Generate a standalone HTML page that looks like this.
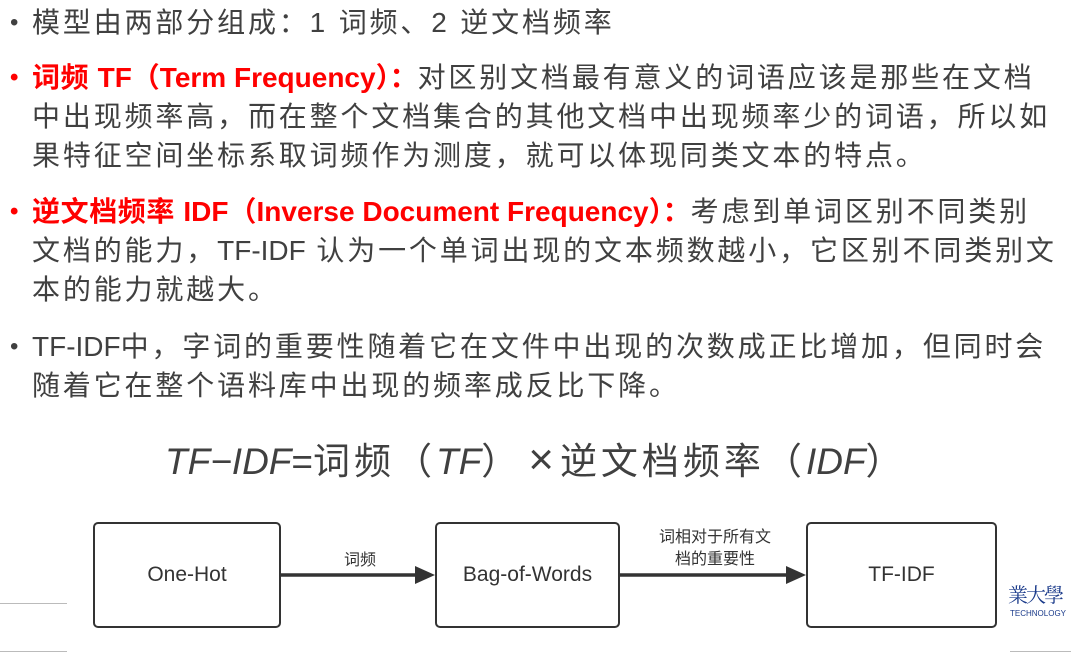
<!DOCTYPE html>
<html><head><meta charset="utf-8"><style>
html,body{margin:0;padding:0;background:#fff;}
body{width:1071px;height:654px;position:relative;overflow:hidden;font-family:"Liberation Sans","Noto Sans CJK SC",sans-serif;color:#404040;}
.l{position:absolute;left:32px;white-space:nowrap;font-size:28px;line-height:36px;letter-spacing:2.85px;}
.b{position:absolute;left:10px;font-size:24px;line-height:36px;}
.r{color:#ff0000;font-weight:bold;letter-spacing:0.6px;}
.n{font-family:"Liberation Sans Narrow","Liberation Sans","Noto Sans CJK SC",sans-serif;letter-spacing:0;}
.box{position:absolute;border:2.5px solid #333;border-radius:5px;background:#fff;display:flex;align-items:center;justify-content:center;font-size:21px;color:#333;box-sizing:border-box;}
.lab{position:absolute;font-size:16px;color:#333;text-align:center;line-height:22px;}
.c{letter-spacing:4px;}
</style></head><body>
<div class="b" style="top:5px">•</div>
<div class="l" style="top:5px">模型由两部分组成：1 词频、2 逆文档频率</div>

<div class="b r" style="top:60px">•</div>
<div class="l" style="top:60px"><span class="r">词频 <span class="n">TF（Term Frequency）：</span></span>对区别文档最有意义的词语应该是那些在文档</div>
<div class="l" style="top:99px">中出现频率高，而在整个文档集合的其他文档中出现频率少的词语，所以如</div>
<div class="l" style="top:138px">果特征空间坐标系取词频作为测度，就可以体现同类文本的特点。</div>

<div class="b r" style="top:194px">•</div>
<div class="l" style="top:194px"><span class="r">逆文档频率 <span class="n">IDF（Inverse Document Frequency）：</span></span>考虑到单词区别不同类别</div>
<div class="l" style="top:233px">文档的能力，<span class="n">TF-IDF</span> 认为一个单词出现的文本频数越小，它区别不同类别文</div>
<div class="l" style="top:272px">本的能力就越大。</div>

<div class="b" style="top:329px">•</div>
<div class="l" style="top:329px"><span class="n">TF-IDF</span>中，字词的重要性随着它在文件中出现的次数成正比增加，但同时会</div>
<div class="l" style="top:368px">随着它在整个语料库中出现的频率成反比下降。</div>

<div style="position:absolute;left:165px;top:436px;font-size:37px;line-height:48px;white-space:nowrap;color:#404040;"><i>TF−IDF</i>=<span class="c">词频（</span><i>TF</i><span class="c">）</span><span style="font-size:44px;margin:0 6px">×</span><span class="c">逆文档频率（</span><i>IDF</i>）</div>

<div style="position:absolute;left:0;top:603px;width:67px;height:1px;background:#bbb"></div>
<div style="position:absolute;left:0;top:651px;width:67px;height:1px;background:#bbb"></div>
<div style="position:absolute;left:1010px;top:651px;width:61px;height:1px;background:#bbb"></div>

<div class="box" style="left:93px;top:522px;width:188px;height:106px">One-Hot</div>
<div class="box" style="left:435px;top:522px;width:185px;height:106px">Bag-of-Words</div>
<div class="box" style="left:806px;top:522px;width:191px;height:106px">TF-IDF</div>

<svg style="position:absolute;left:0;top:0" width="1071" height="654">
<line x1="281" y1="575" x2="418" y2="575" stroke="#333" stroke-width="3.5"/>
<polygon points="415,566 435,575 415,584" fill="#333"/>
<line x1="620" y1="575" x2="789" y2="575" stroke="#333" stroke-width="3.5"/>
<polygon points="786,566 806,575 786,584" fill="#333"/>
</svg>
<div class="lab" style="left:330px;top:550px;width:60px">词频</div>
<div class="lab" style="left:635px;top:527px;width:160px">词相对于所有文<br>档的重要性</div>

<div style="position:absolute;left:1008px;top:582px;color:#1a3a8a;font-family:'Noto Serif CJK SC',serif;font-size:20px;line-height:24px;letter-spacing:-2px;white-space:nowrap">業大學</div>
<div style="position:absolute;left:1010px;top:609px;color:#1a3a8a;font-size:8px;white-space:nowrap">TECHNOLOGY</div>
</body></html>
